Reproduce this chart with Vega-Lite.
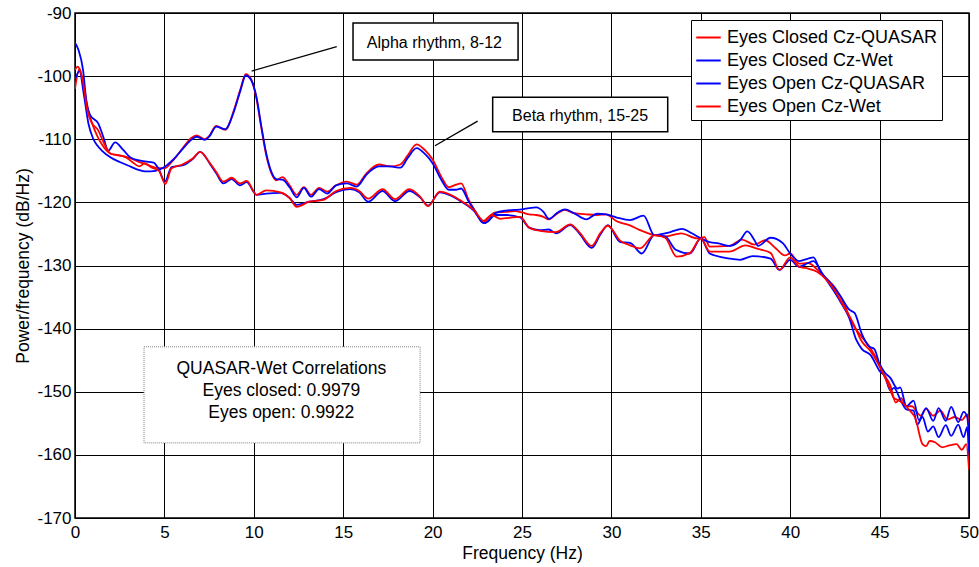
{
"$schema":"https://vega.github.io/schema/vega-lite/v6.json",
"width":894,"height":505,
"autosize":{"type":"none"},
"padding":{"left":75,"top":13,"right":10,"bottom":49},
"background":"white",
"config":{"font":"Liberation Sans","view":{"stroke":"#000","strokeWidth":1.5},
"axis":{"grid":true,"gridColor":"#000","gridOpacity":1,"gridWidth":1,"domain":false,"ticks":false,"labelFontSize":17,"labelColor":"#000","labelFont":"Liberation Sans","titleFont":"Liberation Sans","titleFontSize":17.5,"titleFontWeight":"normal","titleColor":"#000","labelOverlap":false,"labelExpr":"toString(datum.value)"}},
"layer":[
{"data":{"values":[
{"s":"A","f":0,"v":-102},{"s":"A","f":0.25,"v":-98.8},{"s":"A","f":0.5,"v":-101.8},{"s":"A","f":0.75,"v":-105.5},{"s":"A","f":1,"v":-107.8},{"s":"A","f":1.25,"v":-109.5},{"s":"A","f":1.5,"v":-110.8},{"s":"A","f":2,"v":-112.3},{"s":"A","f":2.5,"v":-112.6},{"s":"A","f":3,"v":-112.9},{"s":"A","f":3.5,"v":-113.5},{"s":"A","f":4,"v":-114},{"s":"A","f":4.5,"v":-114.5},{"s":"A","f":5,"v":-114.6},{"s":"A","f":5.5,"v":-113.3},{"s":"A","f":6,"v":-111.5},{"s":"A","f":6.5,"v":-109.8},{"s":"A","f":6.8,"v":-109.4},{"s":"A","f":7.25,"v":-110},{"s":"A","f":7.5,"v":-109.5},{"s":"A","f":7.9,"v":-107.9},{"s":"A","f":8.4,"v":-108.5},{"s":"A","f":8.9,"v":-105.3},{"s":"A","f":9.25,"v":-102.1},{"s":"A","f":9.55,"v":-99.7},{"s":"A","f":9.85,"v":-100.5},{"s":"A","f":10.15,"v":-103.6},{"s":"A","f":10.4,"v":-107.8},{"s":"A","f":10.7,"v":-112.6},{"s":"A","f":11,"v":-115.5},{"s":"A","f":11.25,"v":-116.5},{"s":"A","f":11.6,"v":-116},{"s":"A","f":12,"v":-117.3},{"s":"A","f":12.4,"v":-118.8},{"s":"A","f":12.8,"v":-117.6},{"s":"A","f":13.2,"v":-118.8},{"s":"A","f":13.65,"v":-117.7},{"s":"A","f":14.1,"v":-118.3},{"s":"A","f":14.6,"v":-117.3},{"s":"A","f":15.2,"v":-116.7},{"s":"A","f":15.75,"v":-117.2},{"s":"A","f":16.3,"v":-115.4},{"s":"A","f":17,"v":-114},{"s":"A","f":17.6,"v":-114.3},{"s":"A","f":18.2,"v":-114},{"s":"A","f":18.6,"v":-112.6},{"s":"A","f":19.1,"v":-110.8},{"s":"A","f":19.6,"v":-111.8},{"s":"A","f":20,"v":-113.2},{"s":"A","f":20.5,"v":-116},{"s":"A","f":20.9,"v":-117.6},{"s":"A","f":21.3,"v":-117.2},{"s":"A","f":21.6,"v":-117},{"s":"A","f":22,"v":-119.5},{"s":"A","f":22.4,"v":-121.5},{"s":"A","f":22.8,"v":-123},{"s":"A","f":23.1,"v":-122.4},{"s":"A","f":23.5,"v":-121.6},{"s":"A","f":24.1,"v":-121.5},{"s":"A","f":24.6,"v":-121.4},{"s":"A","f":25,"v":-121.6},{"s":"A","f":25.4,"v":-121.9},{"s":"A","f":25.8,"v":-122},{"s":"A","f":26.2,"v":-122.3},{"s":"A","f":26.5,"v":-122.7},{"s":"A","f":27,"v":-121.7},{"s":"A","f":27.4,"v":-121.2},{"s":"A","f":27.9,"v":-121.7},{"s":"A","f":28.6,"v":-121.9},{"s":"A","f":29.2,"v":-122},{"s":"A","f":29.7,"v":-121.9},{"s":"A","f":30.3,"v":-123},{"s":"A","f":31,"v":-123.6},{"s":"A","f":31.6,"v":-124.4},{"s":"A","f":32.4,"v":-125.2},{"s":"A","f":33,"v":-125.4},{"s":"A","f":33.9,"v":-124.9},{"s":"A","f":34.8,"v":-125.7},{"s":"A","f":35.2,"v":-125.5},{"s":"A","f":35.5,"v":-127},{"s":"A","f":36.6,"v":-126.9},{"s":"A","f":37.3,"v":-125.9},{"s":"A","f":38,"v":-126.7},{"s":"A","f":38.6,"v":-126},{"s":"A","f":39.2,"v":-127.3},{"s":"A","f":39.7,"v":-128.4},{"s":"A","f":40,"v":-128.1},{"s":"A","f":40.5,"v":-129.7},{"s":"A","f":41,"v":-129.6},{"s":"A","f":41.5,"v":-130.6},{"s":"A","f":42,"v":-132},{"s":"A","f":42.5,"v":-133.5},{"s":"A","f":43,"v":-136},{"s":"A","f":43.5,"v":-139.3},{"s":"A","f":44,"v":-141.3},{"s":"A","f":44.4,"v":-142.7},{"s":"A","f":44.8,"v":-144.6},{"s":"A","f":45.2,"v":-147},{"s":"A","f":45.6,"v":-149},{"s":"A","f":45.9,"v":-151.7},{"s":"A","f":46.2,"v":-151},{"s":"A","f":46.5,"v":-152.3},{"s":"A","f":46.8,"v":-152.3},{"s":"A","f":47.3,"v":-153.8},{"s":"A","f":47.6,"v":-152.7},{"s":"A","f":48,"v":-153.8},{"s":"A","f":48.4,"v":-153},{"s":"A","f":48.8,"v":-154.4},{"s":"A","f":49.2,"v":-154},{"s":"A","f":49.6,"v":-154.5},{"s":"A","f":49.9,"v":-153.6},{"s":"A","f":50,"v":-155},
{"s":"B","f":0,"v":-100.5},{"s":"B","f":0.25,"v":-99.2},{"s":"B","f":0.5,"v":-103},{"s":"B","f":0.75,"v":-107.5},{"s":"B","f":1,"v":-109.8},{"s":"B","f":1.25,"v":-111},{"s":"B","f":1.5,"v":-111.8},{"s":"B","f":2,"v":-112.9},{"s":"B","f":2.5,"v":-113.6},{"s":"B","f":3,"v":-114.2},{"s":"B","f":3.5,"v":-114.8},{"s":"B","f":4,"v":-115.1},{"s":"B","f":4.5,"v":-115},{"s":"B","f":5,"v":-114.4},{"s":"B","f":5.5,"v":-113.2},{"s":"B","f":6,"v":-111.6},{"s":"B","f":6.5,"v":-110.1},{"s":"B","f":6.8,"v":-109.6},{"s":"B","f":7.25,"v":-110.1},{"s":"B","f":7.5,"v":-109.6},{"s":"B","f":7.9,"v":-108},{"s":"B","f":8.4,"v":-108.4},{"s":"B","f":8.9,"v":-105.5},{"s":"B","f":9.25,"v":-102.3},{"s":"B","f":9.55,"v":-99.9},{"s":"B","f":9.85,"v":-100.6},{"s":"B","f":10.15,"v":-103.3},{"s":"B","f":10.4,"v":-107.6},{"s":"B","f":10.7,"v":-112.3},{"s":"B","f":11,"v":-115.3},{"s":"B","f":11.25,"v":-116.3},{"s":"B","f":11.6,"v":-116.4},{"s":"B","f":12,"v":-117.6},{"s":"B","f":12.4,"v":-119.2},{"s":"B","f":12.8,"v":-117.7},{"s":"B","f":13.2,"v":-119.1},{"s":"B","f":13.65,"v":-117.9},{"s":"B","f":14.1,"v":-118.6},{"s":"B","f":14.6,"v":-117.3},{"s":"B","f":15.2,"v":-117},{"s":"B","f":15.75,"v":-117.5},{"s":"B","f":16.3,"v":-115.6},{"s":"B","f":17,"v":-114.3},{"s":"B","f":17.6,"v":-114.3},{"s":"B","f":18.2,"v":-114.5},{"s":"B","f":18.6,"v":-113},{"s":"B","f":19.1,"v":-111.4},{"s":"B","f":19.6,"v":-112.4},{"s":"B","f":20,"v":-113.8},{"s":"B","f":20.5,"v":-116.5},{"s":"B","f":20.9,"v":-118},{"s":"B","f":21.3,"v":-118},{"s":"B","f":21.6,"v":-117.8},{"s":"B","f":22,"v":-119.8},{"s":"B","f":22.4,"v":-121.5},{"s":"B","f":22.8,"v":-123.2},{"s":"B","f":23.1,"v":-123},{"s":"B","f":23.5,"v":-121.7},{"s":"B","f":24.1,"v":-121.3},{"s":"B","f":24.6,"v":-121.2},{"s":"B","f":25,"v":-121.1},{"s":"B","f":25.4,"v":-120.9},{"s":"B","f":25.8,"v":-120.8},{"s":"B","f":26.2,"v":-121.5},{"s":"B","f":26.5,"v":-122.6},{"s":"B","f":27,"v":-121.6},{"s":"B","f":27.4,"v":-121.1},{"s":"B","f":27.9,"v":-121.7},{"s":"B","f":28.6,"v":-122.7},{"s":"B","f":29.2,"v":-121.8},{"s":"B","f":29.7,"v":-121.9},{"s":"B","f":30.3,"v":-122.4},{"s":"B","f":31.04,"v":-122.8},{"s":"B","f":31.8,"v":-122.1},{"s":"B","f":32.4,"v":-125.2},{"s":"B","f":33,"v":-124.9},{"s":"B","f":33.3,"v":-124.7},{"s":"B","f":33.95,"v":-124.2},{"s":"B","f":34.5,"v":-124.9},{"s":"B","f":35,"v":-125.7},{"s":"B","f":35.5,"v":-126.3},{"s":"B","f":36,"v":-126.5},{"s":"B","f":36.6,"v":-126.9},{"s":"B","f":37.2,"v":-126},{"s":"B","f":37.6,"v":-124.6},{"s":"B","f":38,"v":-126},{"s":"B","f":38.2,"v":-126.9},{"s":"B","f":38.9,"v":-125.6},{"s":"B","f":39.6,"v":-126.5},{"s":"B","f":40,"v":-128.1},{"s":"B","f":40.5,"v":-129.3},{"s":"B","f":41,"v":-128.9},{"s":"B","f":41.3,"v":-128.7},{"s":"B","f":41.7,"v":-131},{"s":"B","f":42.2,"v":-132.6},{"s":"B","f":42.8,"v":-134.8},{"s":"B","f":43.3,"v":-137},{"s":"B","f":43.6,"v":-137.5},{"s":"B","f":44,"v":-140.8},{"s":"B","f":44.4,"v":-142.8},{"s":"B","f":44.7,"v":-143.2},{"s":"B","f":45,"v":-145.6},{"s":"B","f":45.3,"v":-147},{"s":"B","f":45.6,"v":-147.8},{"s":"B","f":46,"v":-149.5},{"s":"B","f":46.15,"v":-149.3},{"s":"B","f":46.5,"v":-152.3},{"s":"B","f":46.9,"v":-151.4},{"s":"B","f":47.2,"v":-154.5},{"s":"B","f":47.6,"v":-152.6},{"s":"B","f":48,"v":-154.6},{"s":"B","f":48.3,"v":-152.6},{"s":"B","f":48.7,"v":-154.6},{"s":"B","f":49,"v":-152.4},{"s":"B","f":49.4,"v":-154.8},{"s":"B","f":49.7,"v":-153.2},{"s":"B","f":49.9,"v":-154},{"s":"B","f":50,"v":-157.5},
{"s":"C","f":0,"v":-94.7},{"s":"C","f":0.2,"v":-95.9},{"s":"C","f":0.45,"v":-99},{"s":"C","f":0.65,"v":-104.3},{"s":"C","f":0.85,"v":-106.2},{"s":"C","f":1.3,"v":-107.5},{"s":"C","f":1.58,"v":-109.6},{"s":"C","f":1.86,"v":-111.8},{"s":"C","f":2.24,"v":-110.5},{"s":"C","f":2.7,"v":-111.7},{"s":"C","f":3.1,"v":-112.9},{"s":"C","f":3.65,"v":-113.4},{"s":"C","f":4.4,"v":-113.7},{"s":"C","f":4.66,"v":-114.6},{"s":"C","f":5.03,"v":-116.7},{"s":"C","f":5.4,"v":-114.4},{"s":"C","f":6.06,"v":-114.1},{"s":"C","f":6.6,"v":-113.1},{"s":"C","f":7,"v":-112},{"s":"C","f":7.55,"v":-113.9},{"s":"C","f":7.9,"v":-115.4},{"s":"C","f":8.3,"v":-117},{"s":"C","f":8.76,"v":-116.3},{"s":"C","f":9.23,"v":-117.3},{"s":"C","f":9.6,"v":-116.8},{"s":"C","f":10.16,"v":-118.8},{"s":"C","f":10.7,"v":-118.6},{"s":"C","f":11.5,"v":-118.5},{"s":"C","f":12,"v":-119.3},{"s":"C","f":12.4,"v":-120.4},{"s":"C","f":13.1,"v":-119.9},{"s":"C","f":13.9,"v":-119.5},{"s":"C","f":14.6,"v":-118.4},{"s":"C","f":15.4,"v":-117.9},{"s":"C","f":15.9,"v":-118.4},{"s":"C","f":16.4,"v":-119.9},{"s":"C","f":17.2,"v":-118.2},{"s":"C","f":17.9,"v":-119.8},{"s":"C","f":18.7,"v":-118.2},{"s":"C","f":19.3,"v":-119.2},{"s":"C","f":19.75,"v":-120.5},{"s":"C","f":20.4,"v":-118.4},{"s":"C","f":21,"v":-118.9},{"s":"C","f":21.5,"v":-119.7},{"s":"C","f":22.3,"v":-121.3},{"s":"C","f":22.9,"v":-123.3},{"s":"C","f":23.5,"v":-122},{"s":"C","f":24.1,"v":-122},{"s":"C","f":24.9,"v":-122.4},{"s":"C","f":25.4,"v":-124},{"s":"C","f":26,"v":-124.4},{"s":"C","f":26.5,"v":-124.3},{"s":"C","f":26.9,"v":-124.9},{"s":"C","f":27.7,"v":-123.6},{"s":"C","f":28.2,"v":-124.9},{"s":"C","f":28.9,"v":-127.2},{"s":"C","f":29.4,"v":-125},{"s":"C","f":29.8,"v":-123.6},{"s":"C","f":30.5,"v":-126.3},{"s":"C","f":31.04,"v":-126.4},{"s":"C","f":31.7,"v":-128.1},{"s":"C","f":32.4,"v":-125.2},{"s":"C","f":33,"v":-125.4},{"s":"C","f":33.6,"v":-127.5},{"s":"C","f":34.4,"v":-128.1},{"s":"C","f":35,"v":-125.7},{"s":"C","f":35.5,"v":-128.1},{"s":"C","f":36.6,"v":-128.9},{"s":"C","f":37.2,"v":-129.1},{"s":"C","f":37.9,"v":-128.5},{"s":"C","f":38.9,"v":-128.9},{"s":"C","f":39.4,"v":-130.7},{"s":"C","f":40,"v":-129.1},{"s":"C","f":40.5,"v":-130.2},{"s":"C","f":41,"v":-129.6},{"s":"C","f":41.3,"v":-129.3},{"s":"C","f":41.8,"v":-131.3},{"s":"C","f":42.2,"v":-133},{"s":"C","f":42.8,"v":-135.7},{"s":"C","f":43.3,"v":-138.3},{"s":"C","f":43.7,"v":-141.8},{"s":"C","f":44,"v":-143.2},{"s":"C","f":44.5,"v":-144.2},{"s":"C","f":45,"v":-146.7},{"s":"C","f":45.3,"v":-147.6},{"s":"C","f":45.6,"v":-149.8},{"s":"C","f":45.8,"v":-149.4},{"s":"C","f":46.2,"v":-151.5},{"s":"C","f":46.5,"v":-152.8},{"s":"C","f":46.9,"v":-153},{"s":"C","f":47.1,"v":-155.2},{"s":"C","f":47.4,"v":-154},{"s":"C","f":47.7,"v":-156.3},{"s":"C","f":48,"v":-155.5},{"s":"C","f":48.3,"v":-157.2},{"s":"C","f":48.7,"v":-155.3},{"s":"C","f":49,"v":-157},{"s":"C","f":49.4,"v":-155.2},{"s":"C","f":49.7,"v":-157.2},{"s":"C","f":49.9,"v":-155.6},{"s":"C","f":50,"v":-161},
{"s":"D","f":0,"v":-99},{"s":"D","f":0.15,"v":-98.5},{"s":"D","f":0.45,"v":-101},{"s":"D","f":0.7,"v":-105.5},{"s":"D","f":0.9,"v":-107.2},{"s":"D","f":1.3,"v":-108.6},{"s":"D","f":1.6,"v":-110.5},{"s":"D","f":2,"v":-112.3},{"s":"D","f":2.4,"v":-112.5},{"s":"D","f":2.8,"v":-112.8},{"s":"D","f":3.2,"v":-113.6},{"s":"D","f":3.6,"v":-114.3},{"s":"D","f":3.9,"v":-113.8},{"s":"D","f":4.3,"v":-114.5},{"s":"D","f":4.7,"v":-115},{"s":"D","f":5.05,"v":-117.1},{"s":"D","f":5.4,"v":-114.6},{"s":"D","f":6,"v":-114},{"s":"D","f":6.6,"v":-113},{"s":"D","f":7,"v":-112},{"s":"D","f":7.5,"v":-113.6},{"s":"D","f":7.9,"v":-115.2},{"s":"D","f":8.3,"v":-116.7},{"s":"D","f":8.76,"v":-116.1},{"s":"D","f":9.23,"v":-117},{"s":"D","f":9.6,"v":-116.6},{"s":"D","f":10.16,"v":-118.8},{"s":"D","f":10.7,"v":-118.1},{"s":"D","f":11.5,"v":-118.4},{"s":"D","f":12,"v":-119.3},{"s":"D","f":12.4,"v":-120.7},{"s":"D","f":13.1,"v":-119.9},{"s":"D","f":13.9,"v":-119.6},{"s":"D","f":14.6,"v":-118.2},{"s":"D","f":15.4,"v":-117.7},{"s":"D","f":15.9,"v":-118.2},{"s":"D","f":16.4,"v":-119.4},{"s":"D","f":17.2,"v":-117.9},{"s":"D","f":17.9,"v":-119.5},{"s":"D","f":18.7,"v":-117.9},{"s":"D","f":19.3,"v":-119.1},{"s":"D","f":19.75,"v":-120.6},{"s":"D","f":20.4,"v":-118.3},{"s":"D","f":21,"v":-118.8},{"s":"D","f":21.5,"v":-119.6},{"s":"D","f":22.3,"v":-121.2},{"s":"D","f":22.9,"v":-123},{"s":"D","f":23.3,"v":-122},{"s":"D","f":23.8,"v":-122.6},{"s":"D","f":24.1,"v":-122.5},{"s":"D","f":24.9,"v":-122.3},{"s":"D","f":25.4,"v":-124},{"s":"D","f":26,"v":-124.5},{"s":"D","f":26.9,"v":-124.7},{"s":"D","f":27.7,"v":-123.5},{"s":"D","f":28.2,"v":-124.7},{"s":"D","f":28.9,"v":-126.9},{"s":"D","f":29.4,"v":-124.8},{"s":"D","f":29.8,"v":-123.7},{"s":"D","f":30.5,"v":-126.1},{"s":"D","f":31.04,"v":-126.8},{"s":"D","f":31.6,"v":-127.3},{"s":"D","f":32.4,"v":-125.2},{"s":"D","f":33,"v":-125.6},{"s":"D","f":33.65,"v":-128.6},{"s":"D","f":34.4,"v":-128},{"s":"D","f":35,"v":-125.7},{"s":"D","f":35.5,"v":-127.8},{"s":"D","f":36.6,"v":-127.8},{"s":"D","f":37.5,"v":-126.8},{"s":"D","f":38.1,"v":-127.3},{"s":"D","f":38.9,"v":-128},{"s":"D","f":39.4,"v":-130.7},{"s":"D","f":40,"v":-128.7},{"s":"D","f":40.5,"v":-130.2},{"s":"D","f":41,"v":-130.5},{"s":"D","f":41.5,"v":-131},{"s":"D","f":42,"v":-132.2},{"s":"D","f":42.5,"v":-134},{"s":"D","f":43,"v":-136.5},{"s":"D","f":43.5,"v":-139},{"s":"D","f":44,"v":-142},{"s":"D","f":44.5,"v":-143.6},{"s":"D","f":45,"v":-146},{"s":"D","f":45.5,"v":-149},{"s":"D","f":45.8,"v":-151},{"s":"D","f":46,"v":-151.3},{"s":"D","f":46.3,"v":-151.8},{"s":"D","f":46.7,"v":-153},{"s":"D","f":47,"v":-154.2},{"s":"D","f":47.4,"v":-158.3},{"s":"D","f":47.6,"v":-158.6},{"s":"D","f":47.8,"v":-157.8},{"s":"D","f":48.1,"v":-158},{"s":"D","f":48.5,"v":-158.8},{"s":"D","f":48.9,"v":-158.5},{"s":"D","f":49.3,"v":-158.3},{"s":"D","f":49.6,"v":-159.2},{"s":"D","f":49.85,"v":-158.3},{"s":"D","f":50,"v":-162.3}
]},
"mark":{"type":"line","interpolate":"monotone","strokeWidth":1.8,"clip":true},
"encoding":{
"x":{"field":"f","type":"quantitative","title":"Frequency (Hz)","scale":{"domain":[0,50],"nice":false,"zero":false},"axis":{"values":[0,5,10,15,20,25,30,35,40,45,50],"labelFlush":false,"labelPadding":6}},
"y":{"field":"v","type":"quantitative","title":"Power/frequency (dB/Hz)","scale":{"domain":[-170,-90],"nice":false,"zero":false},"axis":{"values":[-170,-160,-150,-140,-130,-120,-110,-100,-90],"labelPadding":4}},
"color":{"field":"s","type":"nominal","scale":{"domain":["A","B","C","D"],"range":["#ff0000","#0000ff","#0000ff","#ff0000"]},
"legend":{"title":null,"orient":"none","legendX":616,"legendY":7,"labelExpr":"datum.label == 'A' ? 'Eyes Closed Cz-QUASAR' : datum.label == 'B' ? 'Eyes Closed Cz-Wet' : datum.label == 'C' ? 'Eyes Open Cz-QUASAR' : 'Eyes Open Cz-Wet'","labelLimit":0,"symbolType":"stroke","symbolStrokeWidth":2,"symbolSize":600,"labelFontSize":18,"labelColor":"#000","labelFont":"Liberation Sans","strokeColor":"#000","fillColor":"#fff","padding":4,"rowPadding":0,"labelOffset":5}}
}},
{"data":{"values":[{"f":9.88,"v":-99.19,"f2":14.64,"v2":-95.34},{"f":20.13,"v":-111.03,"f2":22.52,"v2":-107.12}]},
"mark":{"type":"rule","stroke":"#000","strokeWidth":1.3},
"encoding":{"x":{"field":"f","type":"quantitative","title":"Frequency (Hz)"},"y":{"field":"v","type":"quantitative","title":"Power/frequency (dB/Hz)"},"x2":{"field":"f2"},"y2":{"field":"v2"}}},
{"data":{"values":[{"f":15.55,"f2":24.78,"v":-91.6,"v2":-97.45},{"f":23.36,"f2":33.15,"v":-103.36,"v2":-108.81}]},
"mark":{"type":"rect","fill":"#fff","stroke":"#000","strokeWidth":1.5},
"encoding":{"x":{"field":"f","type":"quantitative","title":"Frequency (Hz)"},"x2":{"field":"f2"},"y":{"field":"v","type":"quantitative","title":"Power/frequency (dB/Hz)"},"y2":{"field":"v2"}}},
{"data":{"values":[{"f":3.86,"f2":19.3,"v":-142.88,"v2":-158.1}]},
"mark":{"type":"rect","fill":"#fff","stroke":"#808080","strokeWidth":1,"strokeDash":[1,1]},
"encoding":{"x":{"field":"f","type":"quantitative","title":"Frequency (Hz)"},"x2":{"field":"f2"},"y":{"field":"v","type":"quantitative","title":"Power/frequency (dB/Hz)"},"y2":{"field":"v2"}}},
{"data":{"values":[{"f":20.1,"v":-95.6,"t":"Alpha rhythm, 8-12"},{"f":28.25,"v":-107.1,"t":"Beta rhythm, 15-25"}]},
"mark":{"type":"text","fontSize":16,"font":"Liberation Sans","color":"#000","align":"center","baseline":"alphabetic"},
"encoding":{"x":{"field":"f","type":"quantitative","title":"Frequency (Hz)"},"y":{"field":"v","type":"quantitative","title":"Power/frequency (dB/Hz)"},"text":{"field":"t"}}},
{"data":{"values":[{"f":11.54,"v":-147.26,"t":"QUASAR-Wet Correlations"},{"f":11.54,"v":-150.7,"t":"Eyes closed: 0.9979"},{"f":11.54,"v":-154.08,"t":"Eyes open: 0.9922"}]},
"mark":{"type":"text","fontSize":17.5,"font":"Liberation Sans","color":"#000","align":"center","baseline":"alphabetic"},
"encoding":{"x":{"field":"f","type":"quantitative","title":"Frequency (Hz)"},"y":{"field":"v","type":"quantitative","title":"Power/frequency (dB/Hz)"},"text":{"field":"t"}}}
]
}
